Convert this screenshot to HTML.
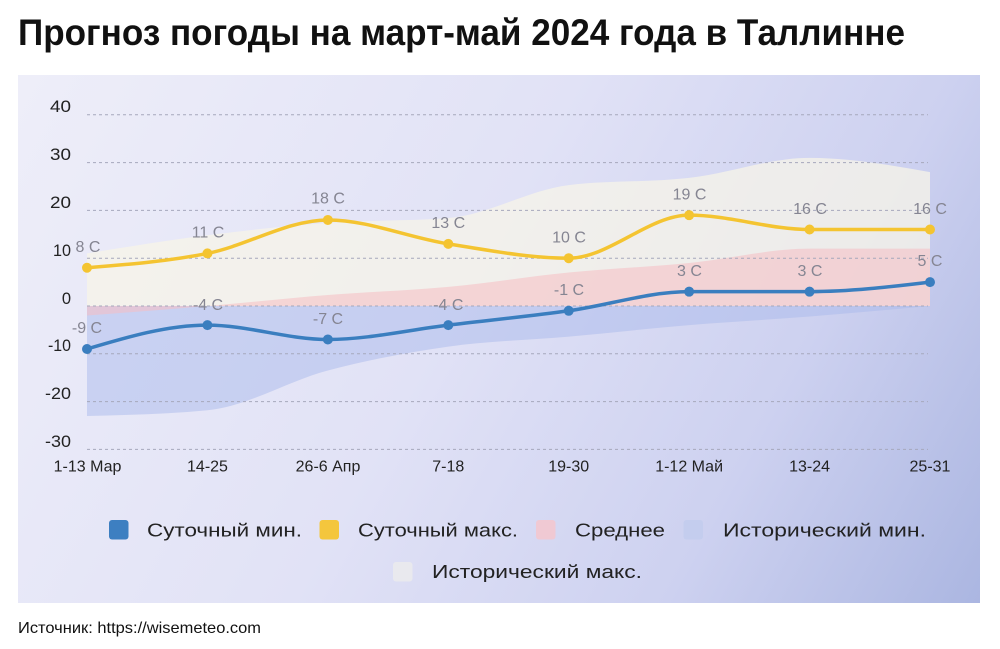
<!DOCTYPE html>
<html>
<head>
<meta charset="utf-8">
<style>
  html, body { margin: 0; padding: 0; background: #ffffff; }
  svg { display: block; }
  text { font-family: "Liberation Sans", "DejaVu Sans", sans-serif; }
</style>
</head>
<body>
<svg width="1000" height="649" viewBox="0 0 1000 649" xmlns="http://www.w3.org/2000/svg">
  <defs>
    <linearGradient id="bg" gradientUnits="userSpaceOnUse" x1="18" y1="75" x2="980" y2="603">
      <stop offset="0" stop-color="#eeeef9"/>
      <stop offset="0.45" stop-color="#e1e2f6"/>
      <stop offset="0.75" stop-color="#cdd1f0"/>
      <stop offset="1" stop-color="#abb6e1"/>
    </linearGradient>
  </defs>

  <rect x="0" y="0" width="1000" height="649" fill="#ffffff"/>

  <!-- Title -->
  <text x="18" y="45" font-size="37" font-weight="bold" fill="#111" textLength="887" lengthAdjust="spacingAndGlyphs">Прогноз погоды на март-май 2024 года в Таллинне</text>

  <!-- Panel -->
  <rect x="18" y="75" width="962" height="528" fill="url(#bg)"/>

  <!-- Historical max area -->
  <path d="M87,306 L87,253.42 C127.14,246.89 167.29,240.36 207.43,235.26 C247.57,230.16 287.71,225.7 327.86,222.83 C368,219.96 408.14,221.24 448.29,218.05 C488.43,214.86 528.57,189.85 568.71,185.07 C608.86,180.29 649,182.44 689.14,177.9 C729.29,173.35 769.43,157.82 809.57,157.82 C849.71,157.82 889.86,164.99 930,172.16 L930,306 Z" fill="rgb(247,244,232)" fill-opacity="0.75"/>

  <!-- Historical min area -->
  <path d="M87,306 L87,415.94 C127.14,414.98 167.29,414.03 207.43,410.2 C247.57,406.38 287.71,381.13 327.86,370.53 C368,359.93 408.14,352.28 448.29,346.63 C488.43,340.98 528.57,340.18 568.71,336.59 C608.86,333.01 649,328.47 689.14,325.12 C729.29,321.77 769.43,319.7 809.57,316.52 C849.71,313.33 889.86,309.67 930,306 Z" fill="rgb(170,185,235)" fill-opacity="0.5"/>

  <!-- Average area -->
  <path d="M87,306 L87,315.56 C127.14,312.49 167.29,309.43 207.43,306 C247.57,302.57 287.71,298.19 327.86,295.01 C368,291.82 408.14,290.62 448.29,286.88 C488.43,283.14 528.57,276.52 568.71,272.54 C608.86,268.56 649,266.96 689.14,262.98 C729.29,259 769.43,248.64 809.57,248.64 C849.71,248.64 889.86,248.64 930,248.64 L930,306 Z" fill="rgb(245,190,195)" fill-opacity="0.55"/>

  <!-- Gridlines -->
  <g stroke="#a6a8bc" stroke-width="1" stroke-dasharray="3,3" fill="none">
    <line x1="87" y1="114.8" x2="928" y2="114.8"/>
    <line x1="87" y1="162.6" x2="928" y2="162.6"/>
    <line x1="87" y1="210.4" x2="928" y2="210.4"/>
    <line x1="87" y1="258.2" x2="928" y2="258.2"/>
    <line x1="87" y1="306" x2="928" y2="306"/>
    <line x1="87" y1="353.8" x2="928" y2="353.8"/>
    <line x1="87" y1="401.6" x2="928" y2="401.6"/>
    <line x1="87" y1="449.4" x2="928" y2="449.4"/>
  </g>

  <!-- Y axis labels -->
  <g font-size="16.5" fill="#222" text-anchor="end">
    <text x="71" y="112" textLength="21" lengthAdjust="spacingAndGlyphs">40</text>
    <text x="71" y="160" textLength="21" lengthAdjust="spacingAndGlyphs">30</text>
    <text x="71" y="208" textLength="21" lengthAdjust="spacingAndGlyphs">20</text>
    <text x="71" y="256" textLength="18" lengthAdjust="spacingAndGlyphs">10</text>
    <text x="71" y="304">0</text>
    <text x="71" y="351" textLength="23" lengthAdjust="spacingAndGlyphs">-10</text>
    <text x="71" y="399" textLength="26" lengthAdjust="spacingAndGlyphs">-20</text>
    <text x="71" y="447" textLength="26" lengthAdjust="spacingAndGlyphs">-30</text>
  </g>

  <!-- X axis labels -->
  <g font-size="16" fill="#222" text-anchor="middle">
    <text x="87.5" y="471.5">1-13 Мар</text>
    <text x="207.5" y="471.5">14-25</text>
    <text x="328" y="471.5">26-6 Апр</text>
    <text x="448.3" y="471.5">7-18</text>
    <text x="568.7" y="471.5">19-30</text>
    <text x="689.1" y="471.5">1-12 Май</text>
    <text x="809.6" y="471.5">13-24</text>
    <text x="930" y="471.5">25-31</text>
  </g>

  <!-- Max line (yellow) -->
  <path d="M87,267.76 C127.14,264.57 167.29,261.39 207.43,253.42 C247.57,245.45 287.71,219.96 327.86,219.96 C368,219.96 408.14,237.49 448.29,243.86 C488.43,250.23 528.57,258.2 568.71,258.2 C608.86,258.2 649,215.18 689.14,215.18 C729.29,215.18 769.43,229.52 809.57,229.52 C849.71,229.52 889.86,229.52 930,229.52" fill="none" stroke="#f4c431" stroke-width="3.5"/>
  <g fill="#f4c431">
    <circle cx="87" cy="267.76" r="5"/>
    <circle cx="207.43" cy="253.42" r="5"/>
    <circle cx="327.86" cy="219.96" r="5"/>
    <circle cx="448.29" cy="243.86" r="5"/>
    <circle cx="568.71" cy="258.2" r="5"/>
    <circle cx="689.14" cy="215.18" r="5"/>
    <circle cx="809.57" cy="229.52" r="5"/>
    <circle cx="930" cy="229.52" r="5"/>
  </g>

  <!-- Min line (blue) -->
  <path d="M87,349.02 C127.14,337.07 167.29,325.12 207.43,325.12 C247.57,325.12 287.71,339.46 327.86,339.46 C368,339.46 408.14,329.9 448.29,325.12 C488.43,320.34 528.57,316.36 568.71,310.78 C608.86,305.2 649,291.66 689.14,291.66 C729.29,291.66 769.43,291.66 809.57,291.66 C849.71,291.66 889.86,286.88 930,282.1" fill="none" stroke="#3a7ebf" stroke-width="3.5"/>
  <g fill="#3a7ebf">
    <circle cx="87" cy="349.02" r="5"/>
    <circle cx="207.43" cy="325.12" r="5"/>
    <circle cx="327.86" cy="339.46" r="5"/>
    <circle cx="448.29" cy="325.12" r="5"/>
    <circle cx="568.71" cy="310.78" r="5"/>
    <circle cx="689.14" cy="291.66" r="5"/>
    <circle cx="809.57" cy="291.66" r="5"/>
    <circle cx="930" cy="282.1" r="5"/>
  </g>

  <!-- Value labels -->
  <g font-size="16" fill="#858592" text-anchor="middle">
    <text x="88" y="252">8 C</text>
    <text x="208" y="237.5">11 C</text>
    <text x="328" y="203.5">18 C</text>
    <text x="448.3" y="228">13 C</text>
    <text x="569" y="242.5">10 C</text>
    <text x="689.5" y="199.5">19 C</text>
    <text x="810" y="214">16 C</text>
    <text x="930" y="214">16 C</text>

    <text x="87" y="333">-9 C</text>
    <text x="208" y="310">-4 C</text>
    <text x="328" y="324">-7 C</text>
    <text x="448.3" y="310">-4 C</text>
    <text x="569" y="295">-1 C</text>
    <text x="689.5" y="276">3 C</text>
    <text x="810" y="276">3 C</text>
    <text x="930" y="266">5 C</text>
  </g>

  <!-- Legend -->
  <rect x="109" y="520" width="19.5" height="19.5" rx="3" fill="#3d7fc1"/>
  <rect x="319.5" y="520" width="19.5" height="19.5" rx="3" fill="#f4c63d"/>
  <rect x="536" y="520" width="19.5" height="19.5" rx="3" fill="#f0c9d3"/>
  <rect x="683.5" y="520" width="19.5" height="19.5" rx="3" fill="#c4cdee"/>
  <rect x="393" y="562" width="19.5" height="19.5" rx="3" fill="#e9e9ee"/>
  <g font-size="18" fill="#222">
    <text x="147" y="536.5" textLength="155" lengthAdjust="spacingAndGlyphs">Суточный мин.</text>
    <text x="358" y="536.5" textLength="160" lengthAdjust="spacingAndGlyphs">Суточный макс.</text>
    <text x="575" y="536.5" textLength="90" lengthAdjust="spacingAndGlyphs">Среднее</text>
    <text x="723" y="536.5" textLength="203" lengthAdjust="spacingAndGlyphs">Исторический мин.</text>
    <text x="432" y="578" textLength="210" lengthAdjust="spacingAndGlyphs">Исторический макс.</text>
  </g>

  <!-- Source -->
  <text x="18" y="633" font-size="16" fill="#111" textLength="243" lengthAdjust="spacingAndGlyphs">Источник: https://wisemeteo.com</text>
</svg>
</body>
</html>
